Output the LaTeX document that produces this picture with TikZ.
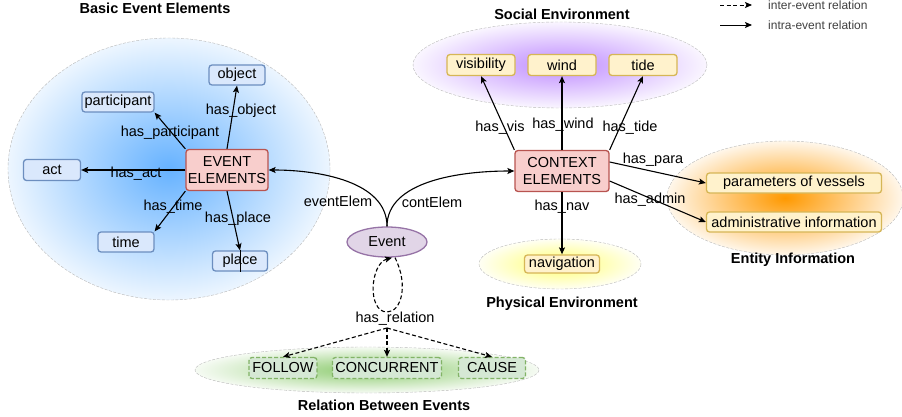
\documentclass[tikz,border=0pt]{standalone}
\usepackage{fontspec}
\setmainfont{Liberation Sans}
\usetikzlibrary{arrows.meta,shapes.geometric}
\definecolor{bluefill}{HTML}{DAE8FC}
\definecolor{blueline}{HTML}{6C8EBF}
\definecolor{redfill}{HTML}{F8CECC}
\definecolor{redline}{HTML}{B85450}
\definecolor{yelfill}{HTML}{FFF2CC}
\definecolor{yelline}{HTML}{D6B656}
\definecolor{grnfill}{HTML}{D5E8D4}
\definecolor{grnline}{HTML}{82B366}
\definecolor{purfill}{HTML}{E1D5E7}
\definecolor{purline}{HTML}{9673A6}
\definecolor{glowblue}{HTML}{66B2FF}
\definecolor{glowpurple}{HTML}{BF8CFF}
\definecolor{gloworange}{HTML}{FF9900}
\definecolor{glowyellow}{HTML}{FFFF70}
\definecolor{glowgreen}{HTML}{8CCB6E}
\definecolor{legendgray}{HTML}{404040}
\pgfdeclareradialshading{shadeblue}{\pgfpoint{0bp}{0bp}}{color(0bp)=(glowblue); color(25bp)=(glowblue!12!white); color(50bp)=(white)}
\pgfdeclareradialshading{shadepurple}{\pgfpoint{0bp}{0bp}}{color(0bp)=(glowpurple); color(25bp)=(glowpurple!8!white); color(50bp)=(white)}
\pgfdeclareradialshading{shadeorange}{\pgfpoint{0bp}{0bp}}{color(0bp)=(gloworange); color(25bp)=(gloworange!8!white); color(50bp)=(white)}
\pgfdeclareradialshading{shadeyellow}{\pgfpoint{0bp}{0bp}}{color(0bp)=(glowyellow); color(25bp)=(glowyellow!8!white); color(50bp)=(white)}
\pgfdeclareradialshading{shadegreen}{\pgfpoint{0bp}{0bp}}{color(0bp)=(glowgreen); color(25bp)=(glowgreen!8!white); color(50bp)=(white)}
\newcommand\lblfont{\fontsize{14.5}{17}\selectfont}
\begin{document}
\begin{tikzpicture}[x=1pt,y=-1pt,
  boxbase/.style={rectangle, rounded corners=3pt, line width=1.3pt, inner sep=0pt, minimum height=20pt, font=\lblfont, align=center},
  bluebox/.style={boxbase, draw=blueline, fill=bluefill},
  redbox/.style={boxbase, draw=redline, fill=redfill, minimum height=41pt},
  yelbox/.style={boxbase, draw=yelline, fill=yelfill},
  grnbox/.style={boxbase, draw=grnline, fill=grnfill, dashed, dash pattern=on 4pt off 2pt, minimum height=21pt},
  lbl/.style={font=\lblfont, inner sep=0pt},
  ttl/.style={font=\bfseries\lblfont, inner sep=0pt},
  rel/.style={-{Stealth[length=7pt,width=6pt,inset=1.5pt]}, line width=1.1pt},
  inter/.style={rel, dash pattern=on 4pt off 2.5pt},
  area/.style={draw=gray!55, line width=0.4pt, dash pattern=on 3pt off 1.5pt}
]
\useasboundingbox (0,0) rectangle (902,417);

% background regions
\path[area, shading=shadeblue] (169,169) ellipse [x radius=161, y radius=131];
\path[area, shading=shadepurple] (560,65) ellipse [x radius=147, y radius=43];
\path[area, shading=shadeorange] (785,198) ellipse [x radius=118, y radius=57];
\path[area, shading=shadeyellow] (560,264) ellipse [x radius=81, y radius=25];
\path[area, shading=shadegreen] (367,370) ellipse [x radius=172, y radius=23];

% titles
\node[ttl] (t1) at (155,8) {Basic Event Elements};
\node[ttl] (t2) at (562,14) {Social Environment};
\node[ttl] (t3) at (793,260) {Entity Information};
\node[ttl] (t4) at (562,304) {Physical Environment};
\node[ttl] (t5) at (384,405) {Relation Between Events};

% legend
\coordinate (la1) at (720,5);
\coordinate (lb1) at (752,5);
\coordinate (la2) at (720,25);
\coordinate (lb2) at (752,25);
\draw[inter, line width=0.9pt] (la1) -- (lb1);
\draw[rel, line width=0.9pt] (la2) -- (lb2);
\node[font=\fontsize{12}{14}\selectfont, text=legendgray, anchor=west, inner sep=0pt] (lg1) at (768,5) {inter-event relation};
\node[font=\fontsize{12}{14}\selectfont, text=legendgray, anchor=west, inner sep=0pt] (lg2) at (768,25) {intra-event relation};

% basic event elements
\node[redbox, minimum width=82pt] (ee) at (227,170) {EVENT\\ELEMENTS};
\node[bluebox, minimum width=56pt] (obj) at (237,75) {object};
\node[bluebox, minimum width=72pt] (par) at (118,102) {participant};
\node[bluebox, minimum width=57pt, minimum height=21pt] (act) at (52,170) {act};
\node[bluebox, minimum width=56pt] (tim) at (126,242) {time};
\node[bluebox, minimum width=55pt] (pla) at (240,261) {place};

% context elements
\node[redbox, minimum width=94pt] (ce) at (562,171) {CONTEXT\\ELEMENTS};
\node[yelbox, minimum width=68pt, minimum height=21pt] (vis) at (481,65) {visibility};
\node[yelbox, minimum width=68pt, minimum height=21pt] (win) at (562,65) {wind};
\node[yelbox, minimum width=68pt, minimum height=21pt] (tid) at (643,65) {tide};
\node[yelbox, minimum width=175pt] (para) at (794,183) {parameters of vessels};
\node[yelbox, minimum width=175pt] (adm) at (794,222) {administrative information};
\node[yelbox, minimum width=75pt, minimum height=18pt] (nav) at (562,264) {navigation};

% event
\node[ellipse, draw=purline, fill=purfill, line width=1.3pt, minimum width=80pt, minimum height=30pt, inner sep=0pt, font=\lblfont] (ev) at (387,242) {Event};

% relations
\node[grnbox, minimum width=68pt] (fol) at (283,368) {FOLLOW};
\node[grnbox, minimum width=109pt] (con) at (387,368) {CONCURRENT};
\node[grnbox, minimum width=67pt] (cau) at (492,368) {CAUSE};

% edges: basic elements
\draw[rel] (ee.north) -- (obj.south);
\draw[rel] (ee.north west) -- (par.south east);
\draw[rel] (ee.west) -- (act.east);
\draw[rel] (ee.south west) -- (tim.north east);
\draw[rel] (ee.south) -- (pla.north);
\draw[line width=0.8pt] (pla.north) -- (pla.south);
\node[lbl] (l1) at (241,111) {has\_object};
\node[lbl] (l2) at (170,133) {has\_participant};
\node[lbl] (l3) at (136,174) {has\_act};
\node[lbl] (l4) at (173,207) {has\_time};
\node[lbl] (l5) at (238,219) {has\_place};

% edges: context elements
\draw[rel] (ce.north west) -- (vis.south);
\draw[rel] (ce.north) -- (win.south);
\draw[rel] (ce.north east) -- (tid.south);
\draw[rel] ([yshift=9pt]ce.east) -- (para.west);
\draw[rel] ([yshift=-10pt]ce.east) -- (adm.west);
\draw[rel] (ce.south) -- (nav.north);
\node[lbl] (l6) at (500,128) {has\_vis};
\node[lbl] (l7) at (563,125) {has\_wind};
\node[lbl] (l8) at (630,128) {has\_tide};
\node[lbl] (l9) at (653,160) {has\_para};
\node[lbl] (l10) at (650,200) {has\_admin};
\node[lbl] (l11) at (562,207) {has\_nav};

% event to element groups
\draw[rel] (ev.north) .. controls +(0,-45) and +(50,0) .. (ee.east);
\draw[rel] (ev.north) .. controls +(0,-45) and +(-55,0) .. (ce.west);
\node[lbl] (l12) at (338,201) {eventElem};
\node[lbl] (l13) at (432,202) {contElem};

% self loop
\coordinate (lb) at (387,312);
\draw[inter] ([xshift=8pt]ev.south) .. controls +(14,28) and +(14,0) .. (lb)
  .. controls +(-20,0) and +(-22,6) .. ([xshift=5pt]ev.south);
\node[lbl] (l14) at (395,319) {has\_relation};

% relation edges
\coordinate (hr) at (387,328);
\draw[inter] (hr) -- (fol.north);
\draw[inter] (hr) -- (con.north);
\draw[inter] (hr) -- (cau.north);
\end{tikzpicture}
\end{document}
